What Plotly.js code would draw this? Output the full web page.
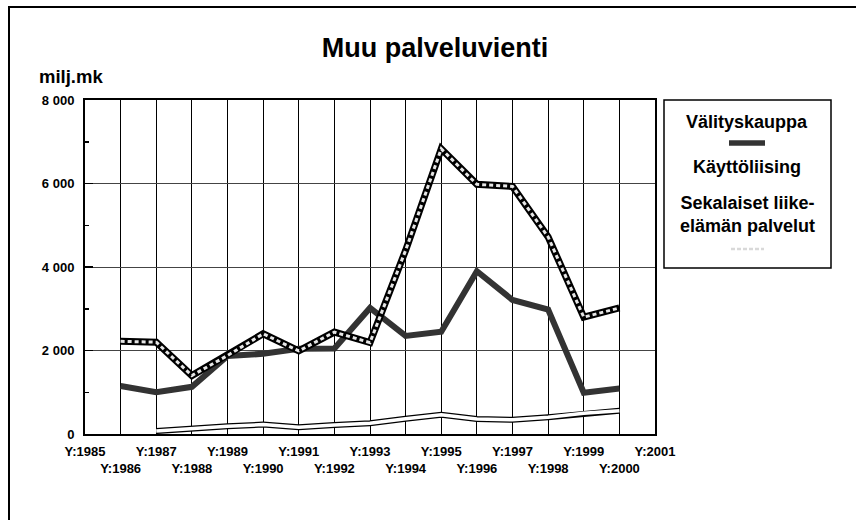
<!DOCTYPE html>
<html>
<head>
<meta charset="utf-8">
<script src="https://cdn.plot.ly/plotly-3.0.1.min.js"></script>
<style>
html,body{margin:0;padding:0;background:#fff;}
#chart{width:856px;height:520px;}
</style>
</head>
<body>
<div id="chart"></div>
<script>
// ---- data ----
const years = [1986,1987,1988,1989,1990,1991,1992,1993,1994,1995,1996,1997,1998,1999,2000];
const valityskauppa = [1150,1000,1130,1870,1920,2040,2050,3020,2350,2450,3900,3210,2980,990,1090];
const kayttoYears = [1987,1988,1989,1990,1991,1992,1993,1994,1995,1996,1997,1998,1999,2000];
const kayttoliising = [70,135,185,225,160,215,255,365,460,360,340,400,495,555];
const sekalaiset = [2220,2200,1400,1880,2400,1990,2440,2190,4400,6830,5980,5930,4720,2800,3020];
const tickYears = [1985,1986,1987,1988,1989,1990,1991,1992,1993,1994,1995,1996,1997,1998,1999,2000,2001];
const yTickVals = [0,2000,4000,6000,8000];
const yTickText = ["0","2 000","4 000","6 000","8 000"];
const seriesNames = ["Välityskauppa","Käyttöliising","Sekalaiset liike-<br>elämän palvelut"];
const titleText = "Muu palveluvienti";
const yUnit = "milj.mk";

// ---- geometry helpers (pixel -> paper) ----
const W = 856, H = 520;
const L = 85, R = 655, T = 100, B = 434;
const px = x => (x - L) / (R - L);
const py = y => (B - y) / (B - T);
const FONT = "Liberation Sans, Arial, sans-serif";

const tickText = tickYears.map((y, i) => (i % 2 === 0 ? "Y:" + y : "<br>Y:" + y));

const traces = [
  {x: kayttoYears, y: kayttoliising, mode: "lines", line: {color: "#000", width: 6}, hoverinfo: "skip", showlegend: false},
  {x: kayttoYears, y: kayttoliising, mode: "lines", name: "Käyttöliising", line: {color: "#fff", width: 3.5}, showlegend: false},
  {x: years, y: valityskauppa, mode: "lines", name: "Välityskauppa", line: {color: "#333333", width: 6}, showlegend: false},
  {x: years, y: sekalaiset, mode: "lines", line: {color: "#000", width: 7}, hoverinfo: "skip", showlegend: false},
  {x: years, y: sekalaiset, mode: "lines", name: "Sekalaiset liike-elämän palvelut", line: {color: "#e6e6e6", width: 3, dash: "4px,3px"}, showlegend: false}
];

const shapes = [
  // outer frame (top and left edges)
  {type: "line", xref: "paper", yref: "paper", x0: px(8), x1: px(858), y0: py(7), y1: py(7), line: {color: "#000", width: 2}},
  {type: "line", xref: "paper", yref: "paper", x0: px(9), x1: px(9), y0: py(6), y1: py(522), line: {color: "#000", width: 2}},
  // legend box
  {type: "rect", xref: "paper", yref: "paper", x0: px(664), x1: px(831), y0: py(100), y1: py(268), line: {color: "#000", width: 1.5}, fillcolor: "rgba(0,0,0,0)"},
  // legend samples
  {type: "line", xref: "paper", yref: "paper", x0: px(729), x1: px(765), y0: py(143), y1: py(143), line: {color: "#333333", width: 5.5}},
  {type: "line", xref: "paper", yref: "paper", x0: px(729), x1: px(765), y0: py(188), y1: py(188), line: {color: "#fff", width: 3}},
  {type: "line", xref: "paper", yref: "paper", x0: px(731), x1: px(764), y0: py(249), y1: py(249), line: {color: "#d9d9d9", width: 2.5, dash: "4px,2px"}}
];

const annFont = (s) => ({family: FONT, size: s, color: "#000", weight: 700});
const annotations = [
  {xref: "paper", yref: "paper", x: px(37), y: py(76), xanchor: "left", yanchor: "middle", text: yUnit, showarrow: false, font: annFont(18.5)},
  {xref: "paper", yref: "paper", x: px(747), y: py(122), xanchor: "center", yanchor: "middle", text: seriesNames[0], showarrow: false, font: annFont(18)},
  {xref: "paper", yref: "paper", x: px(747), y: py(167), xanchor: "center", yanchor: "middle", text: seriesNames[1], showarrow: false, font: annFont(18)},
  {xref: "paper", yref: "paper", x: px(747), y: py(214), xanchor: "center", yanchor: "middle", text: seriesNames[2], showarrow: false, font: annFont(18)}
];

const layout = {
  width: W, height: H,
  margin: {l: L, r: W - R, t: T, b: H - B},
  paper_bgcolor: "#fff", plot_bgcolor: "#fff",
  showlegend: false,
  title: {text: titleText, font: {family: FONT, size: 27, color: "#000", weight: 700}, x: 435 / W, xanchor: "center", y: 1 - 48 / H, yanchor: "middle"},
  xaxis: {
    range: [1985, 2001], tickmode: "array", tickvals: tickYears, ticktext: tickText,
    tickangle: 0,
    ticklabelstandoff: 4,
    showgrid: true, gridcolor: "#000", gridwidth: 1,
    showline: true, linecolor: "#000", linewidth: 2, mirror: true,
    ticks: "", zeroline: false,
    tickfont: {family: FONT, size: 13, color: "#000", weight: 700}
  },
  yaxis: {
    range: [0, 8000], tickmode: "array", tickvals: yTickVals, ticktext: yTickText,
    showgrid: true, gridcolor: "#444", gridwidth: 1,
    showline: true, linecolor: "#000", linewidth: 2, mirror: true,
    ticks: "inside", ticklen: 8, tickcolor: "#000", tickwidth: 1.5,
    ticklabelstandoff: 6,
    minor: {tickmode: "linear", tick0: 0, dtick: 1000, ticks: "inside", ticklen: 4, tickcolor: "#000", showgrid: false},
    zeroline: false,
    tickfont: {family: FONT, size: 13, color: "#000", weight: 700}
  },
  shapes: shapes,
  annotations: annotations
};

Plotly.newPlot("chart", traces, layout, {staticPlot: true, displayModeBar: false});
</script>
</body>
</html>
